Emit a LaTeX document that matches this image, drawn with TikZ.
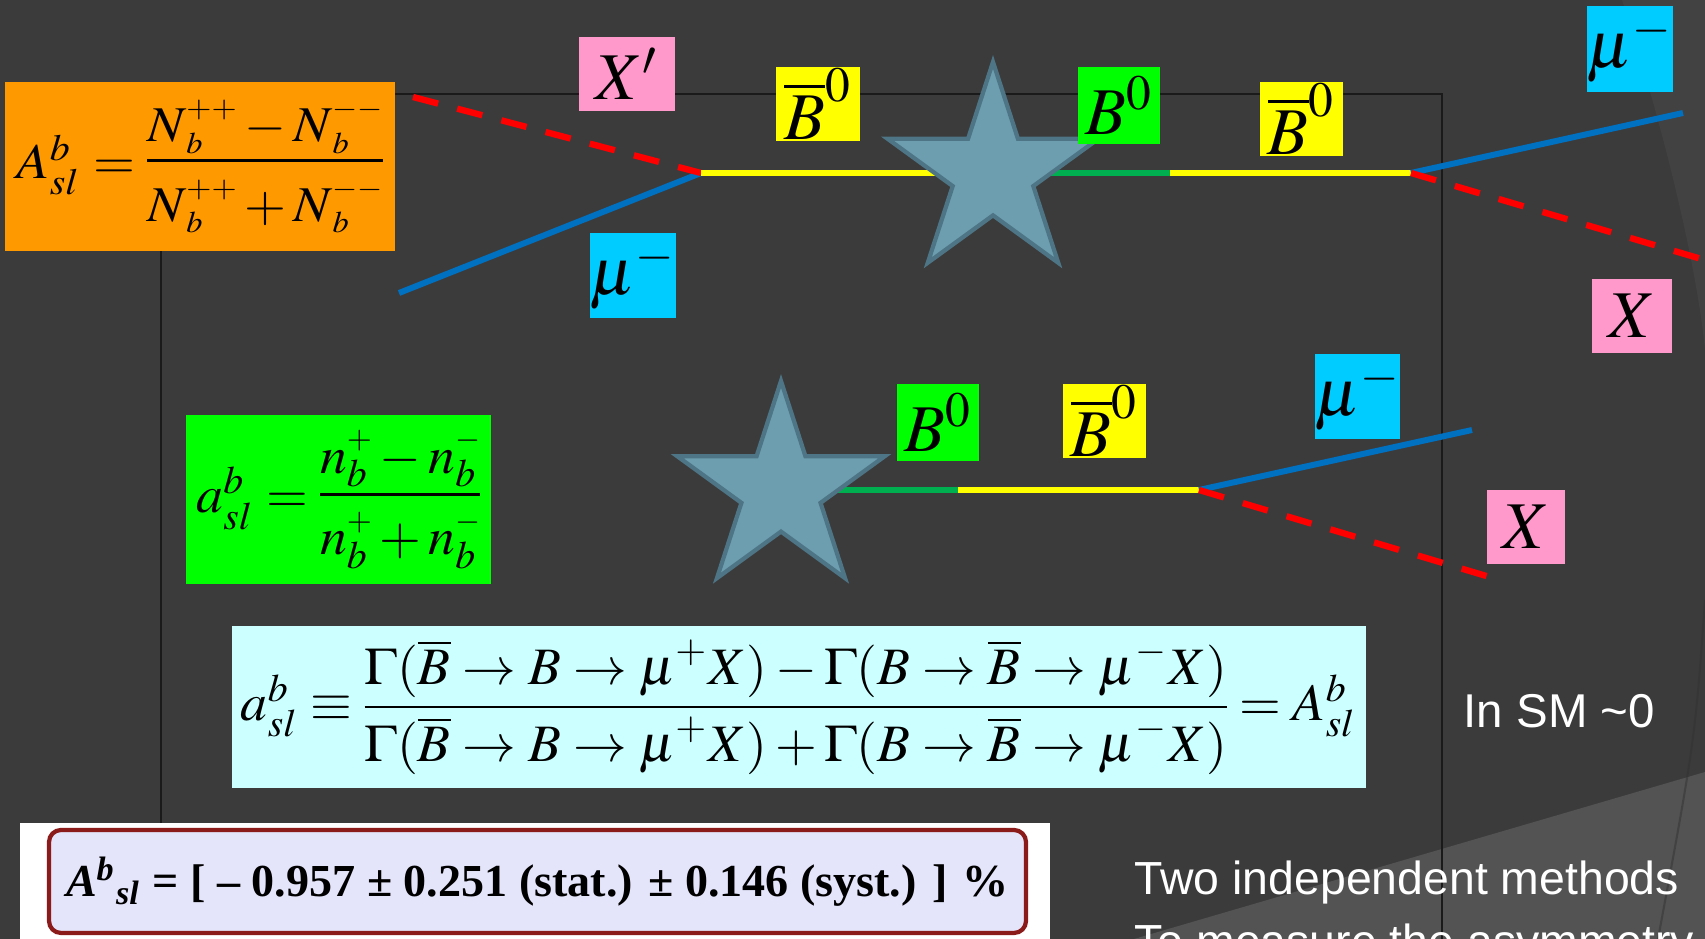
\documentclass[tikz,border=0pt]{standalone}
\usepackage{mathptmx}
\usepackage[no-math]{fontspec}
\setmainfont{Liberation Serif}
\setsansfont{Liberation Sans}
\usepackage{graphicx}
\usetikzlibrary{shapes.geometric, positioning}

\definecolor{slidebg}{HTML}{3B3B3B}
\definecolor{themelite}{HTML}{424242}
\definecolor{themeband}{HTML}{535353}
\definecolor{framec}{HTML}{1A1A1A}
\definecolor{asymorange}{HTML}{FF9900}
\definecolor{pinkX}{HTML}{FF99CC}
\definecolor{barYellow}{HTML}{FFFF00}
\definecolor{bGreen}{HTML}{00FF00}
\definecolor{muCyan}{HTML}{00CCFF}
\definecolor{formCyan}{HTML}{CCFFFF}
\definecolor{muonblue}{HTML}{0070C0}
\definecolor{mixgreen}{HTML}{00B050}
\definecolor{starfill}{HTML}{6D9EAF}
\definecolor{starline}{HTML}{4D7585}
\definecolor{resfill}{HTML}{E4E4FA}
\definecolor{resborder}{HTML}{8B1A1A}

% fraction with fixed gaps above and below the bar
\newcommand{\stackfrac}[4]{\vcenter{\offinterlineskip
  \halign{\hfil##\hfil\cr $\displaystyle#3$\cr
    \noalign{\kern#1\hrule height0.5pt\kern#2}
    $\displaystyle#4$\cr}}}
% compact sup/sub pair: lowering, gap, upper, lower
\newcommand{\stk}[4]{\raisebox{-#1}{\vbox{\offinterlineskip
  \hbox{#3}\kern#2\hbox{#4}}}}
\newcommand{\Nb}[1]{N\stk{0.23em}{0.25em}{$\scriptscriptstyle#1$}{$\scriptscriptstyle b$}}
\newcommand{\nb}[1]{n\stk{0.26em}{0.16em}{$\scriptscriptstyle#1$}{$\scriptstyle b$}}

\begin{document}
\begin{tikzpicture}[
  lbl/.style={inner sep=0pt, font=\fontsize{19}{19}\selectfont},
  eqbox/.style={inner sep=0pt},
  trk/.style={line width=1.7pt},
  muon/.style={trk, draw=muonblue},
  hadr/.style={line width=1.8pt, draw=red, dash pattern=on 7.4pt off 5.6pt},
  bstar/.style={star, star points=5, star point ratio=2.62, inner sep=0pt,
                fill=starfill, draw=starline, line width=1.2pt},
  note/.style={font=\sffamily\fontsize{13.5}{13.5}\selectfont, text=white,
               inner sep=0pt},
]

% ---- Slide -----------------------------------------------------------------
\useasboundingbox (0,0) rectangle (17.05,-9.39);
\clip (0,0) rectangle (17.05,-9.39);
\fill[slidebg] (0,0) rectangle (17.05,-9.39);
\fill[themelite] (16.22,0) .. controls (16.55,-1.0) and (16.95,-2.5)
  .. (17.05,-3.5) -- (17.05,0) -- cycle;
\fill[themeband] (11.34,-9.39) -- (17.05,-7.72) -- (17.05,-9.39) -- cycle;
\draw[black!80, line width=0.6pt, opacity=0.5] (17.05,-6.0)
  .. controls (16.95,-7.4) .. (16.58,-9.39);
\draw[framec, line width=0.5pt] (1.61,-0.94) rectangle (14.42,-10.2);

% ---- Event 1: B0bar -> B0 -> B0bar --------------------------------------------
\coordinate (osc1) at (9.93,-1.73);
\coordinate (vtxL) at (7.01,-1.73);
\coordinate (vtxR) at (14.11,-1.73);
\coordinate (mixA) at (11.70,-1.73);
\coordinate (muL) at (3.99,-2.93);
\coordinate (xL) at (4.13,-0.97);
\coordinate (muR) at (16.83,-1.13);
\coordinate (xR) at (17.25,-2.66);

\draw[muon] (muL) -- (vtxL);
\draw[hadr] (xL) -- (vtxL);
\draw[trk, barYellow] (vtxL) -- (osc1);
\draw[trk, mixgreen] (osc1) -- (mixA);
\draw[trk, barYellow] (mixA) -- (vtxR);
\draw[muon] (vtxR) -- (muR);
\draw[hadr] (vtxR) -- (xR);
\node[bstar, minimum size=2.22cm] (st1) at (osc1) {};

\node[lbl, fill=pinkX, minimum width=0.96cm, minimum height=0.74cm] (xpL) at (6.27,-0.74) {$X'$};
\node[lbl, fill=muCyan, minimum width=0.76cm, minimum height=0.85cm] (muLt) at (6.33,-2.755) {$\mu^-$};
\node[lbl, fill=barYellow, minimum width=0.84cm, minimum height=0.74cm] (bb1) at (8.18,-1.04) {$\overline{B}^0$};
\node[lbl, fill=bGreen, minimum width=0.82cm, minimum height=0.77cm] (b1) at (11.19,-1.055) {$B^0$};
\node[lbl, fill=barYellow, minimum width=0.83cm, minimum height=0.74cm] (bb2) at (13.015,-1.19) {$\overline{B}^0$};
\node[lbl, fill=muCyan, minimum width=0.76cm, minimum height=0.86cm] (muRt) at (16.30,-0.49) {$\mu^-$};
\node[lbl, fill=pinkX, minimum width=0.80cm, minimum height=0.74cm] (xRt) at (16.32,-3.16) {$X$};

% ---- Event 2: B0 -> B0bar ----------------------------------------------------
\coordinate (osc2) at (7.81,-4.90);
\coordinate (mixB) at (9.58,-4.90);
\coordinate (vtx2) at (11.99,-4.90);
\coordinate (mu2) at (14.72,-4.30);
\coordinate (x2) at (14.93,-5.78);

\draw[trk, mixgreen] (osc2) -- (mixB);
\draw[trk, barYellow] (mixB) -- (vtx2);
\draw[muon] (vtx2) -- (mu2);
\draw[hadr] (vtx2) -- (x2);
\node[bstar, minimum size=2.18cm] (st2) at (osc2) {};

\node[lbl, fill=bGreen, minimum width=0.82cm, minimum height=0.77cm] (b2) at (9.38,-4.225) {$B^0$};
\node[lbl, fill=barYellow, minimum width=0.83cm, minimum height=0.74cm] (bb3) at (11.045,-4.21) {$\overline{B}^0$};
\node[lbl, fill=muCyan, minimum width=0.75cm, minimum height=0.85cm] (mu2t) at (13.575,-3.965) {$\mu^-$};
\node[lbl, fill=pinkX, minimum width=0.78cm, minimum height=0.74cm] (x2t) at (15.26,-5.27) {$X$};

% ---- Asymmetry definitions ---------------------------------------------------
\node[eqbox, fill=asymorange, minimum width=3.90cm, minimum height=1.69cm] (Asl) at (2.00,-1.665)
  {\resizebox*{3.66cm}{1.33cm}{$A^b_{sl}=\stackfrac{1.2pt}{3.5pt}{\Nb{++}-\Nb{--}}{\Nb{++}+\Nb{--}}$}};
\node[eqbox, fill=bGreen, minimum width=3.05cm, minimum height=1.69cm] (asl) at (3.385,-4.995)
  {\resizebox*{2.84cm}{1.38cm}{$a^b_{sl}=\stackfrac{1.2pt}{3pt}{\nb{+}-\nb{-}}{\nb{+}+\nb{-}}$}};
\node[eqbox, fill=formCyan, minimum width=11.34cm, minimum height=1.62cm] (defn) at (7.99,-7.07)
  {\resizebox*{11.16cm}{1.35cm}{$a^b_{sl}\equiv
   \stackfrac{1.6pt}{1.6pt}{\Gamma(\overline{B}\to B\to\mu^+X)-\Gamma(B\to\overline{B}\to\mu^-X)}
        {\Gamma(\overline{B}\to B\to\mu^+X)+\Gamma(B\to\overline{B}\to\mu^-X)}=A^b_{sl}$}};

\node[note, anchor=base west] (sm) at (14.63,-7.28) {In SM \textasciitilde0};

% ---- Measured value ----------------------------------------------------------
\fill[white] (0.20,-8.23) rectangle (10.50,-9.60);
\node[eqbox, draw=resborder, fill=resfill, line width=1.2pt, rounded corners=0.12cm,
      minimum width=9.77cm, minimum height=1.03cm] (res) at (5.375,-8.815)
  {\resizebox*{9.43cm}{0.50cm}{\bfseries\itshape A\textsuperscript{b}\textsubscript{sl}\upshape{} = [ – 0.957 ± 0.251 (stat.) ± 0.146 (syst.) ] \%}\hspace{0.18cm}};

\node[note, font=\sffamily\fontsize{13.2}{13.2}\selectfont, anchor=base west] (meth1) at (11.34,-8.95) {Two independent methods};
\node[note, font=\sffamily\fontsize{13.2}{13.2}\selectfont, anchor=base west] (meth2) at ([yshift=-0.63cm]meth1.base west) {To measure the asymmetry};

\end{tikzpicture}
\end{document}
